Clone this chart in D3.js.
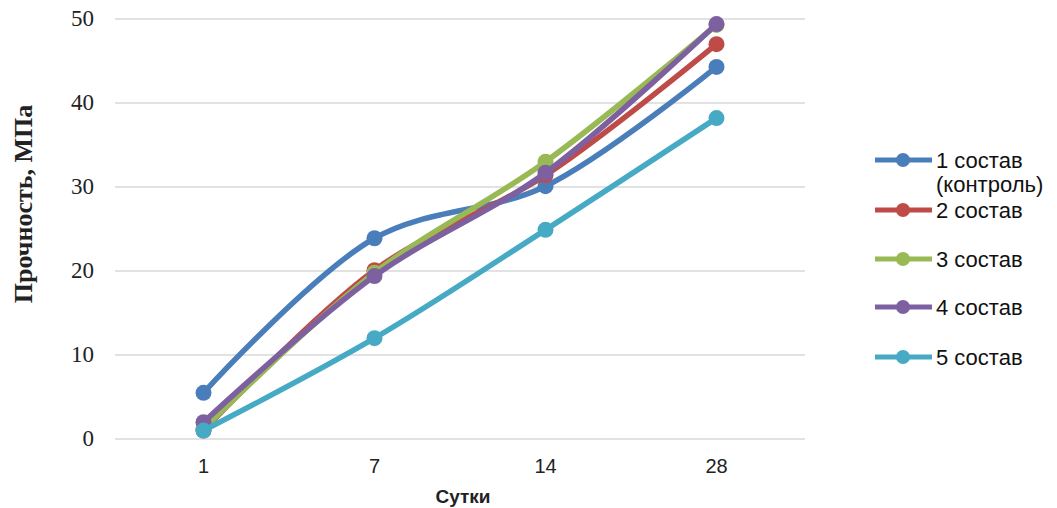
<!DOCTYPE html>
<html><head><meta charset="utf-8">
<script src="https://cdn.jsdelivr.net/npm/d3@7"></script>
<style>body{margin:0;background:#fff}</style>
</head><body>
<svg id="c" width="1057" height="508"></svg>
<script>
const categories = ["1", "7", "14", "28"];
const seriesNames = ["1 состав (контроль)", "2 состав", "3 состав", "4 состав", "5 состав"];
const s1 = [5.5, 23.9, 30.1, 44.3];
const s2 = [1.0, 20.1, 31.4, 47.0];
const s3 = [1.2, 19.8, 33.0, 49.3];
const s4 = [2.0, 19.4, 31.7, 49.4];
const s5 = [1.0, 12.0, 24.9, 38.2];
const yTicks = [0, 10, 20, 30, 40, 50];
const colors = ["#4A7EBB", "#BE4B48", "#98B954", "#7D60A0", "#46AAC5"];
const allSeries = [s1, s2, s3, s4, s5];

const svg = d3.select("#c");
const x = d3.scalePoint().domain(categories).range([118, 802]).padding(0.5);
const y = d3.scaleLinear().domain([0, 50]).range([439, 19]);

// gridlines
svg.append("g").selectAll("line").data(yTicks).join("line")
  .attr("x1", 115).attr("x2", 805)
  .attr("y1", d => y(d)).attr("y2", d => y(d))
  .attr("stroke", "#d9d9d9").attr("stroke-width", 1.5);

// y tick labels
svg.append("g").selectAll("text").data(yTicks).join("text")
  .attr("x", 94).attr("y", d => y(d) + 7)
  .attr("text-anchor", "end")
  .attr("font-family", "Liberation Serif, Times New Roman, serif")
  .attr("font-size", 23).attr("fill", "#222")
  .text(d => d);

// x tick labels
svg.append("g").selectAll("text").data(categories).join("text")
  .attr("x", d => x(d)).attr("y", 473)
  .attr("text-anchor", "middle")
  .attr("font-family", "Liberation Sans, Arial, sans-serif")
  .attr("font-size", 20).attr("fill", "#222")
  .text(d => d);

// axis titles
svg.append("text")
  .attr("transform", "translate(32,204) rotate(-90)")
  .attr("text-anchor", "middle")
  .attr("font-family", "Liberation Serif, Times New Roman, serif")
  .attr("font-weight", "bold").attr("font-size", 26).attr("fill", "#222")
  .text("Прочность, МПа");
svg.append("text")
  .attr("x", 463).attr("y", 503)
  .attr("text-anchor", "middle")
  .attr("font-family", "Liberation Sans, Arial, sans-serif")
  .attr("font-weight", "bold").attr("font-size", 19).attr("fill", "#222")
  .text("Сутки");

const line = d3.line()
  .x((d, i) => x(categories[i]))
  .y(d => y(d))
  .curve(d3.curveCatmullRom.alpha(0.5));

[0, 1, 2, 3, 4].forEach(k => {
  const g = svg.append("g");
  g.append("path").datum(allSeries[k])
    .attr("d", line).attr("fill", "none")
    .attr("stroke", colors[k]).attr("stroke-width", 5.5)
    .attr("stroke-linejoin", "round");
  g.selectAll("circle").data(allSeries[k]).join("circle")
    .attr("cx", (d, i) => x(categories[i])).attr("cy", d => y(d))
    .attr("r", 8).attr("fill", colors[k]);
});

// legend
const legendY = [160, 210, 259, 307, 357];
const lg = svg.append("g");
seriesNames.forEach((name, k) => {
  const ly = legendY[k];
  lg.append("line").attr("x1", 875).attr("x2", 932).attr("y1", ly).attr("y2", ly)
    .attr("stroke", colors[k]).attr("stroke-width", 5);
  lg.append("circle").attr("cx", 903).attr("cy", ly).attr("r", 7).attr("fill", colors[k]);
  const t = lg.append("text")
    .attr("x", 936).attr("y", ly + 8)
    .attr("font-family", "Liberation Sans, Arial, sans-serif")
    .attr("font-size", 22).attr("fill", "#111");
  if (k === 0) {
    t.append("tspan").attr("x", 936).text("1 состав");
    t.append("tspan").attr("x", 936).attr("dy", 24).text("(контроль)");
  } else {
    t.text(name);
  }
});
</script>
</body></html>
